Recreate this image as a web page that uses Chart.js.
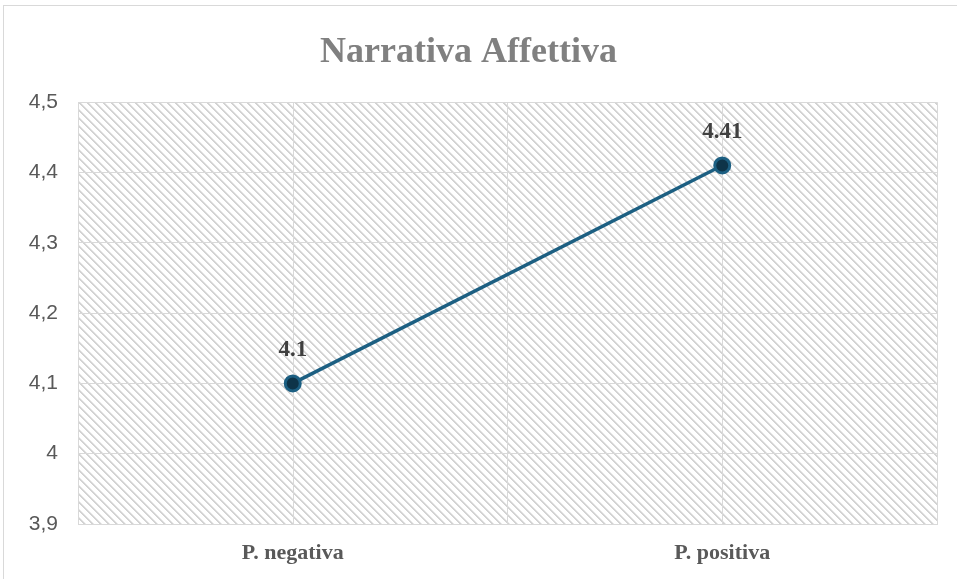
<!DOCTYPE html>
<html>
<head>
<meta charset="utf-8">
<script src="https://cdn.jsdelivr.net/npm/chart.js@4.4.1/dist/chart.umd.min.js"></script>
<style>
  html, body { margin: 0; padding: 0; background: #ffffff; }
  #wrap { width: 957px; height: 579px; position: relative; }
</style>
</head>
<body>
<div id="wrap"><canvas id="c" width="957" height="579"></canvas></div>
<script>
const chartTitle = 'Narrativa Affettiva';
const categories = ['P. negativa', 'P. positiva'];
const seriesValues = [4.1, 4.41];
const yTickValues = [3.9, 4.0, 4.1, 4.2, 4.3, 4.4, 4.5];
const yTickLabels = ['3,9', '4', '4,1', '4,2', '4,3', '4,4', '4,5'];

function makeHatch(ctx) {
  const t = document.createElement('canvas');
  t.width = 8; t.height = 8;
  const g = t.getContext('2d');
  g.fillStyle = '#ffffff';
  g.fillRect(0, 0, 8, 8);
  for (let y = 0; y < 8; y++) {
    for (let x = 0; x < 8; x++) {
      const d = ((x - y) % 8 + 8) % 8;
      if (d === 0 || d === 1) { g.fillStyle = '#d3d3d3'; g.fillRect(x, y, 1, 1); }
      else if (d === 2) { g.fillStyle = '#ebebeb'; g.fillRect(x, y, 1, 1); }
    }
  }
  return ctx.createPattern(t, 'repeat');
}

const decorPlugin = {
  id: 'decor',
  beforeDraw(chart) {
    const ctx = chart.ctx;
    const a = chart.chartArea;
    ctx.save();
    ctx.fillStyle = '#ffffff';
    ctx.fillRect(0, 0, chart.width, chart.height);
    ctx.strokeStyle = '#d9d9d9';
    ctx.lineWidth = 1;
    ctx.strokeRect(3.5, 5.5, chart.width + 10, chart.height + 10);
    ctx.fillStyle = makeHatch(ctx);
    ctx.fillRect(a.left, a.top, a.right - a.left, a.bottom - a.top);
    ctx.restore();
  },
  beforeDatasetsDraw(chart) {
    const ctx = chart.ctx;
    const a = chart.chartArea;
    const xs = chart.scales.x;
    ctx.save();
    ctx.strokeStyle = '#d9d9d9';
    ctx.lineWidth = 1;
    categories.forEach((c, i) => {
      const px = Math.round(xs.getPixelForValue(i)) + 0.5;
      ctx.beginPath();
      ctx.moveTo(px, a.top);
      ctx.lineTo(px, a.bottom);
      ctx.stroke();
    });
    ctx.restore();
  },
  afterDatasetsDraw(chart) {
    const ctx = chart.ctx;
    const meta = chart.getDatasetMeta(0);
    ctx.save();
    ctx.font = 'bold 23px "Liberation Serif", "Times New Roman", serif';
    ctx.fillStyle = '#404040';
    ctx.textAlign = 'center';
    ctx.textBaseline = 'middle';
    meta.data.forEach((pt, i) => {
      ctx.fillText(String(seriesValues[i]), pt.x, pt.y - 33);
    });
    ctx.restore();
  }
};

new Chart(document.getElementById('c'), {
  type: 'line',
  data: {
    labels: categories,
    datasets: [{
      data: seriesValues,
      borderColor: '#1c5f82',
      borderWidth: 3.5,
      pointRadius: 7.5,
      pointHoverRadius: 7.5,
      pointBackgroundColor: '#0e3449',
      pointBorderColor: '#1c5f82',
      pointBorderWidth: 3,
      tension: 0,
      clip: false
    }]
  },
  options: {
    responsive: false,
    animation: false,
    events: [],
    layout: { padding: { left: 0, right: 20, top: 10, bottom: 10 } },
    plugins: {
      legend: { display: false },
      tooltip: { enabled: false },
      title: {
        display: true,
        text: chartTitle,
        color: '#808080',
        font: { family: '"Liberation Serif", "Times New Roman", serif', size: 36, weight: 'bold', lineHeight: 1.2 },
        padding: { top: 21, bottom: 28 }
      }
    },
    scales: {
      x: {
        type: 'category',
        offset: true,
        afterFit(scale) { scale.height = 45; },
        grid: { offset: true, color: '#d9d9d9', lineWidth: 1, drawTicks: false },
        border: { display: true, color: '#d9d9d9', width: 1 },
        ticks: {
          padding: 16,
          color: '#595959',
          font: { family: '"Liberation Serif", "Times New Roman", serif', size: 22, weight: 'bold', lineHeight: 1.2 }
        }
      },
      y: {
        min: 3.9,
        max: 4.5,
        afterFit(scale) { scale.width = 78; },
        afterBuildTicks(scale) { scale.ticks = yTickValues.map(v => ({ value: v })); },
        grid: { color: '#d9d9d9', lineWidth: 1, drawTicks: false },
        border: { display: true, color: '#d9d9d9', width: 1 },
        ticks: {
          padding: 20,
          color: '#595959',
          font: { family: '"Liberation Sans", Arial, sans-serif', size: 21, lineHeight: 1.2 },
          callback(value) {
            const i = yTickValues.findIndex(v => Math.abs(v - value) < 1e-6);
            return i >= 0 ? yTickLabels[i] : '';
          }
        }
      }
    }
  },
  plugins: [decorPlugin]
});
</script>
</body>
</html>
